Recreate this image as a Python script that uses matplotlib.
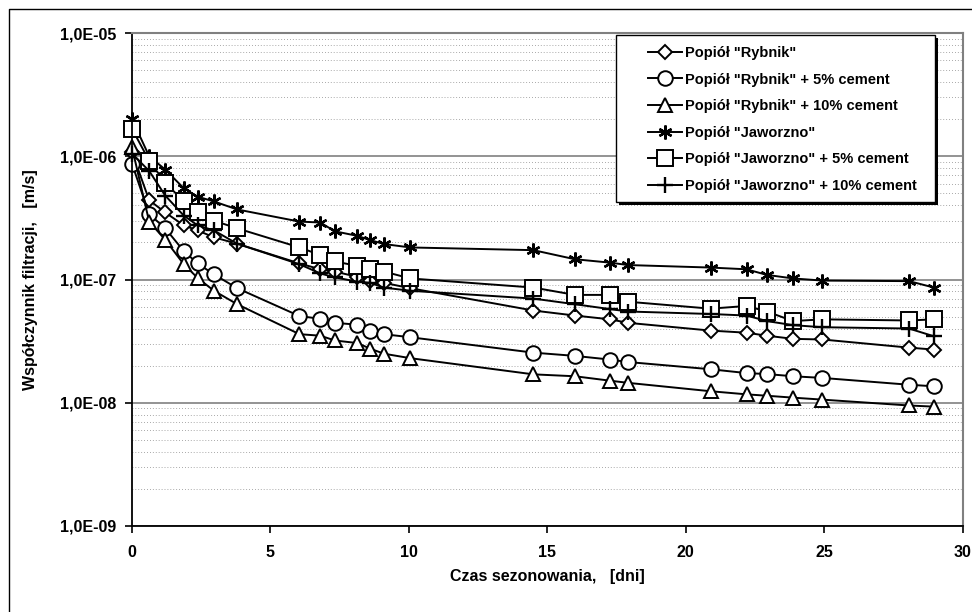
import matplotlib
matplotlib.use("Agg")
import matplotlib.pyplot as plt
from matplotlib.lines import Line2D
from matplotlib.patches import Rectangle
from matplotlib.ticker import LogLocator, NullFormatter, FixedLocator

plt.rcParams['font.family'] = ['Liberation Sans', 'DejaVu Sans']
plt.rcParams['font.weight'] = 'bold'

# sampling days (shared by all series)
days = [0, 0.62, 1.2, 1.87, 2.37, 2.96, 3.8, 6.05, 6.8, 7.33, 8.14, 8.6, 9.1,
        10.05, 14.5, 16.0, 17.27, 17.92, 20.9, 22.2, 22.93, 23.88, 24.94, 28.07, 28.97]

rybnik = [1.08e-6, 4.4e-7, 3.5e-7, 2.75e-7, 2.5e-7, 2.2e-7, 1.95e-7, 1.35e-7, 1.21e-7,
          1.16e-7, 1.05e-7, 9.8e-8, 9.4e-8, 8.5e-8, 5.6e-8, 5.1e-8, 4.75e-8, 4.45e-8,
          3.85e-8, 3.7e-8, 3.5e-8, 3.3e-8, 3.26e-8, 2.8e-8, 2.7e-8]
rybnik_5 = [8.7e-7, 3.4e-7, 2.6e-7, 1.7e-7, 1.35e-7, 1.1e-7, 8.5e-8, 5.05e-8, 4.8e-8,
            4.45e-8, 4.3e-8, 3.85e-8, 3.6e-8, 3.4e-8, 2.55e-8, 2.4e-8, 2.24e-8, 2.14e-8,
            1.87e-8, 1.74e-8, 1.71e-8, 1.64e-8, 1.59e-8, 1.4e-8, 1.36e-8]
rybnik_10 = [1.18e-6, 2.95e-7, 2.1e-7, 1.33e-7, 1.03e-7, 8.1e-8, 6.3e-8, 3.6e-8, 3.5e-8,
             3.2e-8, 3.05e-8, 2.75e-8, 2.5e-8, 2.3e-8, 1.7e-8, 1.64e-8, 1.51e-8, 1.45e-8,
             1.24e-8, 1.17e-8, 1.14e-8, 1.1e-8, 1.06e-8, 9.5e-9, 9.3e-9]
jaworzno = [2.0e-6, 1.0e-6, 7.8e-7, 5.5e-7, 4.7e-7, 4.3e-7, 3.7e-7, 2.95e-7, 2.9e-7,
            2.46e-7, 2.26e-7, 2.09e-7, 1.94e-7, 1.82e-7, 1.73e-7, 1.46e-7, 1.37e-7, 1.31e-7,
            1.25e-7, 1.21e-7, 1.09e-7, 1.02e-7, 9.8e-8, 9.7e-8, 8.6e-8]
jaworzno_5 = [1.67e-6, 9.2e-7, 6.1e-7, 4.3e-7, 3.5e-7, 3.0e-7, 2.6e-7, 1.82e-7, 1.58e-7,
              1.4e-7, 1.29e-7, 1.21e-7, 1.16e-7, 1.02e-7, 8.6e-8, 7.5e-8, 7.5e-8, 6.6e-8,
              5.8e-8, 6.1e-8, 5.5e-8, 4.6e-8, 4.75e-8, 4.65e-8, 4.75e-8]
jaworzno_10 = [1.05e-6, 7.6e-7, 4.8e-7, 3.3e-7, 2.75e-7, 2.5e-7, 1.95e-7, 1.33e-7, 1.12e-7,
               1.04e-7, 9.6e-8, 9.4e-8, 8.6e-8, 8.1e-8, 7.0e-8, 6.3e-8, 5.75e-8, 5.5e-8,
               5.25e-8, 5.1e-8, 4.6e-8, 4.26e-8, 4.1e-8, 4.0e-8, 3.46e-8]

labels = ['Popiół "Rybnik"', 'Popiół "Rybnik" + 5% cement', 'Popiół "Rybnik" + 10% cement',
          'Popiół "Jaworzno"', 'Popiół "Jaworzno" + 5% cement', 'Popiół "Jaworzno" + 10% cement']
y_ticks = [1e-9, 1e-8, 1e-7, 1e-6, 1e-5]
y_ticklabels = ['1,0E-09', '1,0E-08', '1,0E-07', '1,0E-06', '1,0E-05']
x_ticks = [0, 5, 10, 15, 20, 25, 30]

W, H = 972, 612
fig = plt.figure(figsize=(W / 100, H / 100), dpi=100)
ax = fig.add_axes([132 / W, 1 - 526 / H, 830.5 / W, 493 / H])

styles = [
    dict(marker='D', ms=7.5, mfc='white'),
    dict(marker='o', ms=10.5, mfc='white'),
    dict(marker='^', ms=9.5, mfc='white'),
    dict(marker=(6, 2, 0), ms=10, mew=1.7),
    dict(marker='s', ms=11, mfc='white'),
    dict(marker='+', ms=11, mew=1.7),
]
series = [rybnik, rybnik_5, rybnik_10, jaworzno, jaworzno_5, jaworzno_10]
for vals, lab, st in zip(series, labels, styles):
    kw = dict(color='black', mec='black', lw=1.4, mew=1.4)
    kw.update(st)
    ax.plot(days, vals, label=lab, clip_on=False, **kw)

ax.set_yscale('log')
ax.set_ylim(1e-9, 1e-5)
ax.set_xlim(0, 30)
ax.yaxis.set_major_locator(FixedLocator(y_ticks))
ax.set_yticklabels(y_ticklabels)
ax.yaxis.set_minor_locator(LogLocator(base=10, subs=range(2, 10)))
ax.yaxis.set_minor_formatter(NullFormatter())
ax.set_xticks(x_ticks)

ax.grid(which='major', axis='y', color='#808080', lw=1.2, ls='-')
ax.grid(which='minor', axis='y', color='#8c8c8c', lw=0.6, ls=(0, (1, 2.5)))
ax.set_axisbelow(True)

for s in ['top', 'right']:
    ax.spines[s].set_color('#808080')
    ax.spines[s].set_linewidth(1.5)
for s in ['left', 'bottom']:
    ax.spines[s].set_color('black')
    ax.spines[s].set_linewidth(1.3)

ax.tick_params(axis='both', which='major', direction='out', length=5, width=1.2, labelsize=11.5)
ax.tick_params(axis='x', pad=9)
ax.tick_params(axis='y', pad=6)
ax.tick_params(axis='y', which='minor', length=0)

ax.set_xlabel('Czas sezonowania,   [dni]', fontsize=11.5, fontweight='bold', labelpad=6)
ax.set_ylabel('Współczynnik filtracji,   [m/s]', fontsize=11.5, fontweight='bold', labelpad=16)

# legend box drawn by hand (Excel style: wide left margin, solid shadow)
bx0, bx1, by0, by1 = 616, 935, 35, 202
fig.add_artist(Rectangle(((bx0 + 3) / W, 1 - (by1 + 3) / H), (bx1 - bx0) / W, (by1 - by0) / H,
                         transform=fig.transFigure, facecolor='black', edgecolor='none', zorder=5))
fig.add_artist(Rectangle((bx0 / W, 1 - by1 / H), (bx1 - bx0) / W, (by1 - by0) / H,
                         transform=fig.transFigure, facecolor='white', edgecolor='black',
                         lw=1.0, zorder=6))
leg = fig.legend(*ax.get_legend_handles_labels(), loc='upper left',
                 bbox_to_anchor=(648 / W, 1 - 46 / H), borderaxespad=0, borderpad=0,
                 frameon=False, handlelength=2.3, labelspacing=0.86, handletextpad=0.25,
                 prop={'weight': 'bold', 'size': 10.5})
leg.set_zorder(7)

# chart area border (only top and left fall inside the image)
fig.add_artist(Line2D([9 / W, 9 / W, 1.0], [0.0, 1 - 9 / H, 1 - 9 / H],
                      transform=fig.transFigure, color='black', lw=1.0))

fig.savefig('out.png', dpi=100)
